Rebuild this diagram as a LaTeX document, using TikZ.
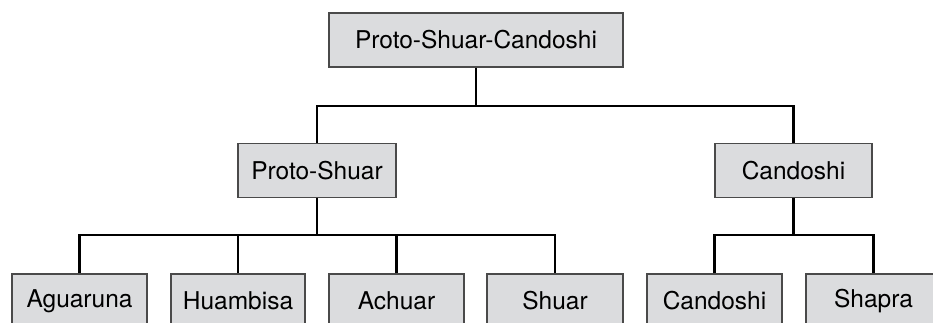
\documentclass[tikz,border=0pt]{standalone}
\usepackage{fontspec}
\setmainfont{TeX Gyre Heros}
\definecolor{boxfill}{HTML}{DBDCDE}
\definecolor{boxline}{HTML}{4A4A4A}
\begin{document}
\begin{tikzpicture}[x=1pt,y=-1pt,
  box/.style={draw=boxline,fill=boxfill,line width=1.1pt,inner sep=0pt,
    minimum height=54pt,font=\fontsize{24.5}{29}\selectfont},
  conn/.style={draw=black,line width=2.7pt,line join=miter}]
\useasboundingbox (0,0) rectangle (933,323);
\clip (0,0) rectangle (933,323);
% nodes
\node[box,minimum width=294pt] (top) at (476,40) {Proto-Shuar-Candoshi};
\node[box,minimum width=158pt] (ps) at (317,170.5) {Proto-Shuar};
\node[box,minimum width=157pt] (cd) at (793.5,170.5) {Candoshi};
\node[box,minimum width=135pt] (agu) at (79.5,301) {Aguaruna};
\node[box,minimum width=134pt] (hua) at (238,301) {Huambisa};
\node[box,minimum width=135pt] (ach) at (396.5,301) {Achuar};
\node[box,minimum width=136pt] (shu) at (555,301) {Shuar};
\node[box,minimum width=135pt] (cd2) at (714.5,301) {Candoshi};
\node[box,minimum width=135pt] (sha) at (873.5,301) {Shapra};
% junction levels
\coordinate (j1) at (476,106);
\coordinate (j2) at (317,235);
\coordinate (j3) at (793.5,235);
% connectors
\draw[conn] (top.south) -- (top.south|-j1);
\draw[conn] (ps.north) -- (ps.north|-j1) -- (cd.north|-j1) -- (cd.north);
\draw[conn] (ps.south) -- (j2);
\draw[conn] (agu.north) -- (agu.north|-j2) -- (shu.north|-j2) -- (shu.north);
\draw[conn] (hua.north) -- (hua.north|-j2);
\draw[conn] (ach.north) -- (ach.north|-j2);
\draw[conn] (cd.south) -- (j3);
\draw[conn] (cd2.north) -- (cd2.north|-j3) -- (sha.north|-j3) -- (sha.north);
\end{tikzpicture}
\end{document}
